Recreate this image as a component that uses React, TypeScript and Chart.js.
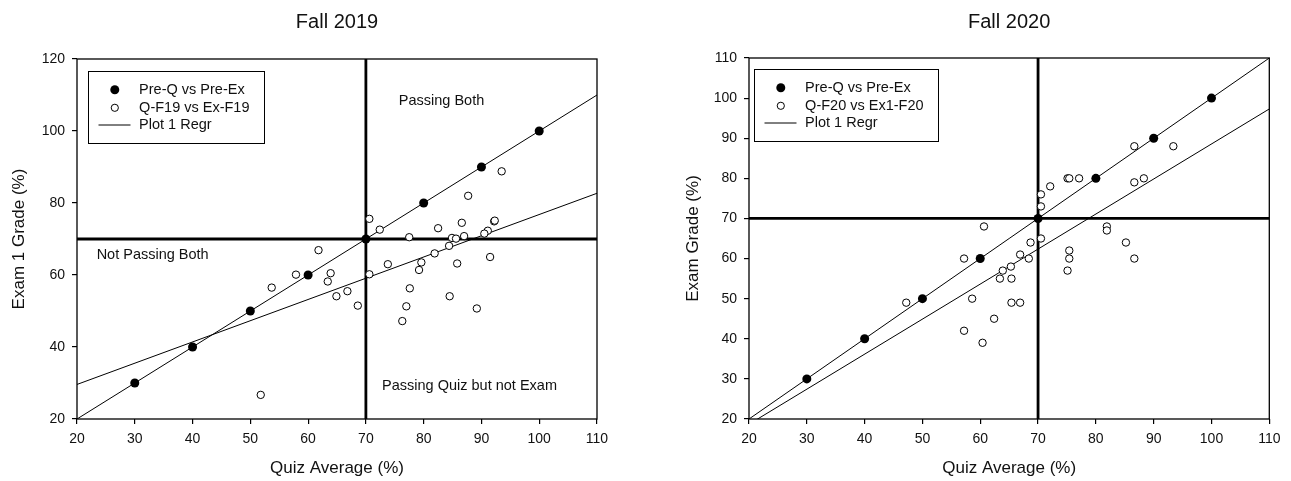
import { useEffect, useRef } from 'react';
import { Chart, registerables } from 'chart.js';

Chart.register(...registerables);

const FONT = 'Arial, "Liberation Sans", Helvetica, sans-serif';
const INK = '#111';

// ---- data ----
const refQuiz = [30, 40, 50, 60, 70, 80, 90, 100];
const refExam = [30, 40, 50, 60, 70, 80, 90, 100];

const f19Quiz = [53.7, 51.8, 57.9, 61.8, 63.9, 63.4, 66.8, 64.9, 68.6, 70.6, 72.4, 70.6, 73.8, 77.5, 82.5, 86.6, 87.7, 93.5, 92.2, 92.3, 91.1, 90.5, 84.9, 85.6, 87.0, 84.4, 81.9, 79.6, 79.2, 85.8, 91.5, 77.6, 84.5, 77.0, 89.2, 76.3];
const f19Exam = [56.5, 26.7, 60.1, 66.9, 60.5, 58.2, 55.5, 54.1, 51.5, 75.6, 72.6, 60.2, 63.0, 70.5, 73.0, 74.5, 82.0, 88.8, 74.9, 75.1, 72.3, 71.5, 70.3, 70.1, 70.8, 68.1, 66.0, 63.5, 61.4, 63.2, 65.0, 56.3, 54.1, 51.3, 50.7, 47.2];

const f20Quiz = [86.65, 93.4, 75.1, 75.4, 77.1, 72.1, 70.5, 70.5, 86.65, 88.3, 60.65, 81.9, 81.9, 85.2, 70.5, 68.7, 66.9, 68.4, 75.4, 75.4, 86.65, 57.2, 65.3, 63.9, 63.4, 65.4, 58.6, 65.4, 66.9, 62.4, 57.2, 60.4, 75.1, 47.2];
const f20Exam = [88, 88, 80, 80, 80, 78, 76, 73, 79, 80, 68, 68, 67, 64, 65, 64, 61, 60, 62, 60, 60, 60, 58, 57, 55, 55, 50, 49, 49, 45, 42, 39, 57, 49];

const regrX = [20, 110];
const refRegrY = [20, 110];
const f19RegrY = [29.6, 82.7];
const f20RegrY = [18.7, 97.3];

const passMark = 70;
const xRange = [20, 110];
const f19YRange = [20, 120];
const f20YRange = [20, 110];

const quadLabels = ['Passing Both', 'Not Passing Both', 'Passing Quiz but not Exam'];
const quadLabelX = [75.7, 23.4, 72.8];
const quadLabelY = [108.4, 65.6, 29.2];

const pts = (xs: number[], ys: number[]) => xs.map((x, i) => ({ x, y: ys[i] }));

// ---- plugins ----
const framePlugin = {
  id: 'frame',
  afterDraw(chart: any) {
    const { ctx, chartArea: a } = chart;
    ctx.save();
    ctx.strokeStyle = '#000';
    ctx.lineWidth = 1.3;
    ctx.strokeRect(a.left, a.top, a.right - a.left, a.bottom - a.top);
    ctx.restore();
  },
};

const boxLegendPlugin = {
  id: 'boxLegend',
  afterDatasetsDraw(chart: any, _args: any, o: any) {
    const { ctx, chartArea: a } = chart;
    const items = chart.data.datasets.filter((d: any) => d.legendKind);
    ctx.save();
    ctx.font = `${o.fontSize}px ${FONT}`;
    const maxW = Math.max(...items.map((d: any) => ctx.measureText(d.label).width));
    const x0 = Math.round(a.left + o.dx) + 0.5;
    const y0 = Math.round(a.top + o.dy) + 0.5;
    const w = Math.round(o.textDx + maxW + o.padRight);
    const h = o.height;
    ctx.fillStyle = '#fff';
    ctx.fillRect(x0, y0, w, h);
    ctx.strokeStyle = '#000';
    ctx.lineWidth = 1;
    ctx.strokeRect(x0, y0, w, h);
    items.forEach((d: any, i: number) => {
      const cy = y0 + o.rowY[i];
      const sx = x0 + o.symDx;
      if (d.legendKind === 'filled') {
        ctx.beginPath();
        ctx.arc(sx, cy, 4.5, 0, Math.PI * 2);
        ctx.fillStyle = '#000';
        ctx.fill();
      } else if (d.legendKind === 'open') {
        ctx.beginPath();
        ctx.arc(sx, cy, 3.6, 0, Math.PI * 2);
        ctx.fillStyle = '#fff';
        ctx.fill();
        ctx.strokeStyle = '#000';
        ctx.lineWidth = 1;
        ctx.stroke();
      } else {
        ctx.beginPath();
        ctx.moveTo(x0 + o.lineFrom, cy);
        ctx.lineTo(x0 + o.lineTo, cy);
        ctx.strokeStyle = '#000';
        ctx.lineWidth = 1;
        ctx.stroke();
      }
      ctx.fillStyle = INK;
      ctx.textAlign = 'left';
      ctx.textBaseline = 'middle';
      ctx.fillText(d.label, x0 + o.textDx, cy);
    });
    ctx.restore();
  },
};

const quadTextPlugin = {
  id: 'quadText',
  afterDatasetsDraw(chart: any, _args: any, o: any) {
    if (!o.items || !o.items.length) return;
    const { ctx, scales } = chart;
    ctx.save();
    ctx.font = `${o.fontSize}px ${FONT}`;
    ctx.fillStyle = INK;
    ctx.textAlign = 'left';
    ctx.textBaseline = 'middle';
    o.items.forEach((it: any) => {
      ctx.fillText(it.text, scales.x.getPixelForValue(it.x), scales.y.getPixelForValue(it.y));
    });
    ctx.restore();
  },
};

type Spec = {
  title: string;
  openLabel: string;
  openQuiz: number[];
  openExam: number[];
  openRegrY: number[];
  yRange: number[];
  yStep: number;
  yTitle: string;
  yAxisWidth: number;
  padRight: number;
  titleBottom: number;
  height: number;
  legendDx: number;
  legendDy: number;
  quad: boolean;
};

function buildConfig(s: Spec): any {
  const lineDs = (label: string, data: any[], width: number, order: number, extra: any = {}) => ({
    label,
    data,
    showLine: true,
    pointRadius: 0,
    borderColor: '#000',
    backgroundColor: '#000',
    borderWidth: width,
    order,
    ...extra,
  });
  return {
    type: 'scatter',
    data: {
      datasets: [
        {
          label: 'Pre-Q vs Pre-Ex',
          data: pts(refQuiz, refExam),
          pointRadius: 4.5,
          backgroundColor: '#000',
          borderColor: '#000',
          borderWidth: 0,
          order: 0,
          legendKind: 'filled',
        },
        {
          label: s.openLabel,
          data: pts(s.openQuiz, s.openExam),
          pointRadius: 3.7,
          backgroundColor: '#fff',
          borderColor: '#000',
          borderWidth: 1,
          order: 1,
          legendKind: 'open',
        },
        lineDs('Plot 1 Regr', pts(regrX, refRegrY), 1, 3, { legendKind: 'line' }),
        lineDs('Plot 2 Regr', pts(regrX, s.openRegrY), 1, 4),
        lineDs('Exam pass', pts(xRange, [passMark, passMark]), 2.8, 5),
        lineDs('Quiz pass', pts([passMark, passMark], s.yRange), 2.8, 6),
      ],
    },
    options: {
      responsive: false,
      animation: false,
      events: [],
      layout: { padding: { left: 0, top: 0, bottom: 0, right: s.padRight } },
      scales: {
        x: {
          type: 'linear',
          min: xRange[0],
          max: xRange[1],
          ticks: {
            stepSize: 10,
            color: INK,
            font: { family: FONT, size: 14 },
            padding: 7,
            maxRotation: 0,
            autoSkip: false,
          },
          grid: { drawOnChartArea: false, drawTicks: true, tickLength: 5, color: '#000', lineWidth: 1.2 },
          border: { display: false },
          title: {
            display: true,
            text: 'Quiz Average (%)',
            color: INK,
            font: { family: FONT, size: 17 },
            padding: { top: 0, bottom: 2 },
          },
          afterFit: (sc: any) => {
            sc.height = s.height - 419;
          },
        },
        y: {
          type: 'linear',
          min: s.yRange[0],
          max: s.yRange[1],
          ticks: {
            stepSize: s.yStep,
            color: INK,
            font: { family: FONT, size: 14 },
            padding: 7,
            autoSkip: false,
          },
          grid: { drawOnChartArea: false, drawTicks: true, tickLength: 5, color: '#000', lineWidth: 1.2 },
          border: { display: false },
          title: {
            display: true,
            text: s.yTitle,
            color: INK,
            font: { family: FONT, size: 17 },
            padding: { top: 9, bottom: 0 },
          },
          afterFit: (sc: any) => {
            sc.width = s.yAxisWidth;
          },
        },
      },
      plugins: {
        legend: { display: false },
        tooltip: { enabled: false },
        title: {
          display: true,
          fullSize: false,
          text: s.title,
          color: INK,
          font: { family: FONT, size: 20, weight: 'normal' },
          padding: { top: 10, bottom: s.titleBottom },
        },
        boxLegend: {
          fontSize: 14.5,
          dx: s.legendDx,
          dy: s.legendDy,
          height: 72,
          rowY: [18.3, 36.3, 53.5],
          symDx: 26.3,
          textDx: 50.6,
          lineFrom: 10,
          lineTo: 42,
          padRight: 15,
        },
        quadText: {
          fontSize: 14.5,
          items: s.quad ? quadLabels.map((t, i) => ({ text: t, x: quadLabelX[i], y: quadLabelY[i] })) : [],
        },
      },
    },
    plugins: [framePlugin, boxLegendPlugin, quadTextPlugin],
  };
}

function ChartCanvas({ spec, left, width }: { spec: Spec; left: number; width: number }) {
  const ref = useRef<HTMLCanvasElement | null>(null);
  useEffect(() => {
    if (!ref.current) return;
    const chart = new Chart(ref.current, buildConfig(spec));
    return () => chart.destroy();
  }, []);
  return (
    <canvas
      ref={ref}
      width={width}
      height={spec.height}
      style={{ position: 'absolute', left, top: 0, width, height: spec.height, display: 'block' }}
    />
  );
}

const leftSpec: Spec = {
  title: 'Fall 2019',
  openLabel: 'Q-F19 vs Ex-F19',
  openQuiz: f19Quiz,
  openExam: f19Exam,
  openRegrY: f19RegrY,
  yRange: f19YRange,
  yStep: 20,
  yTitle: 'Exam 1 Grade (%)',
  yAxisWidth: 77,
  padRight: 77,
  titleBottom: 25,
  height: 481,
  legendDx: 10.7,
  legendDy: 12,
  quad: true,
};

const rightSpec: Spec = {
  title: 'Fall 2020',
  openLabel: 'Q-F20 vs Ex1-F20',
  openQuiz: f20Quiz,
  openExam: f20Exam,
  openRegrY: f20RegrY,
  yRange: f20YRange,
  yStep: 10,
  yTitle: 'Exam Grade (%)',
  yAxisWidth: 75,
  padRight: 21.7,
  titleBottom: 24,
  height: 481,
  legendDx: 5.3,
  legendDy: 11,
  quad: false,
};

export default function App() {
  return (
    <div style={{ position: 'absolute', left: 0, top: 0, width: 1291, height: 481, background: '#fff' }}>
      <ChartCanvas spec={leftSpec} left={0} width={674} />
      <ChartCanvas spec={rightSpec} left={674} width={617} />
    </div>
  );
}
